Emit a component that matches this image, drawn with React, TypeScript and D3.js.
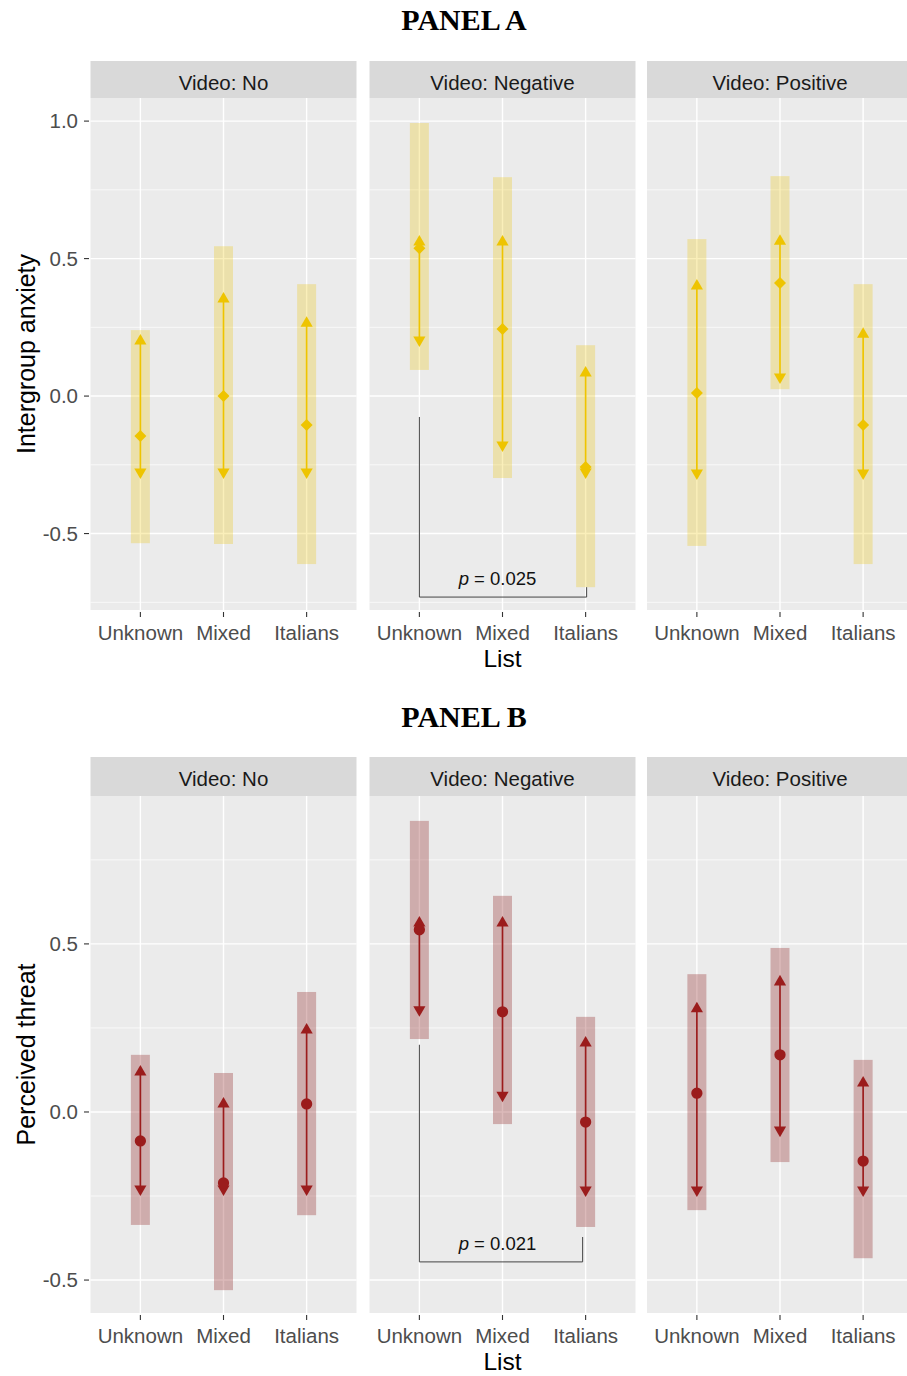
import * as d3 from "d3";

// categories
const lists = ["Unknown", "Mixed", "Italians"];
const videos = ["Video: No", "Video: Negative", "Video: Positive"];

// PANEL A - intergroup anxiety, one row per video condition (Unknown, Mixed, Italians)
const anxietyMean = [
  [-0.145, 0.0, -0.105],
  [0.538, 0.244, -0.258],
  [0.011, 0.411, -0.105],
];
const anxietyUp = [
  [0.2, 0.353, 0.265],
  [0.56, 0.56, 0.084],
  [0.4, 0.563, 0.225],
];
const anxietyDown = [
  [-0.276, -0.276, -0.276],
  [0.204, -0.178, -0.276],
  [-0.28, 0.069, -0.28],
];
const anxietyCiHigh = [
  [0.24, 0.545, 0.407],
  [0.993, 0.796, 0.185],
  [0.571, 0.8, 0.407],
];
const anxietyCiLow = [
  [-0.535, -0.538, -0.611],
  [0.095, -0.298, -0.695],
  [-0.545, 0.025, -0.611],
];

// PANEL B - perceived threat
const threatMean = [
  [-0.086, -0.211, 0.024],
  [0.542, 0.298, -0.03],
  [0.056, 0.17, -0.146],
];
const threatUp = [
  [0.119, 0.024, 0.244],
  [0.562, 0.562, 0.205],
  [0.307, 0.387, 0.086],
];
const threatDown = [
  [-0.229, -0.229, -0.229],
  [0.304, 0.05, -0.232],
  [-0.232, -0.054, -0.232],
];
const threatCiHigh = [
  [0.17, 0.116, 0.357],
  [0.866, 0.643, 0.283],
  [0.41, 0.488, 0.155],
];
const threatCiLow = [
  [-0.336, -0.53, -0.307],
  [0.217, -0.036, -0.342],
  [-0.292, -0.149, -0.435],
];

const anxietyMajor = [-0.5, 0, 0.5, 1.0];
const anxietyMinor = [-0.75, -0.25, 0.25, 0.75];
const threatMajor = [-0.5, 0, 0.5];
const threatMinor = [-0.25, 0.25, 0.75];

// p-value brackets (Negative video, Unknown vs Italians)
const anxietyBracket = { left: -0.076, bottom: -0.731, right: -0.695, label: "0.025" };
const threatBracket = { left: 0.2, bottom: -0.446, right: -0.372, label: "0.021" };

const W = 907;
const H = 1376;
const panelXs = [90.5, 369.5, 647];
const panelW = 266;
const font = "'Liberation Sans', Arial, sans-serif";

const triUp = d3.symbol(d3.symbolTriangle, 64)()!;
const diamond = d3.symbol(d3.symbolSquare, 72)()!;
const circle = d3.symbol(d3.symbolCircle, 100)()!;

type FacetProps = {
  title: string;
  titleY: number;
  yLabel: string;
  stripTop: number;
  plotTop: number;
  plotBottom: number;
  domain: [number, number];
  major: number[];
  minor: number[];
  mean: number[][];
  up: number[][];
  down: number[][];
  ciHigh: number[][];
  ciLow: number[][];
  color: string;
  rectColor: string;
  rectOpacity: number;
  meanPath: string;
  bracket: { left: number; bottom: number; right: number; label: string };
  bracketDx: number;
};

function Facet(p: FacetProps) {
  const y = d3.scaleLinear().domain(p.domain).range([p.plotBottom, p.plotTop]);
  const fmt = (t: number) => d3.format(".1f")(t).replace("\u2212", "-");
  const rectHalf = 9.5;
  return (
    <g>
      <text x={464} y={p.titleY} textAnchor="middle" fontFamily="'Liberation Serif', 'Times New Roman', serif"
        fontWeight="bold" fontSize={30} fill="#000">{p.title}</text>

      {videos.map((v, vi) => {
        const x0 = panelXs[vi];
        const x = d3.scalePoint().domain(lists).range([x0, x0 + panelW]).padding(0.6);
        return (
          <g key={v}>
            <rect x={x0} y={p.stripTop} width={panelW} height={p.plotTop - p.stripTop} fill="#D9D9D9" />
            <text x={x0 + panelW / 2} y={p.stripTop + 29} textAnchor="middle" fontFamily={font}
              fontSize={20.5} fill="#1A1A1A">{v}</text>
            <rect x={x0} y={p.plotTop} width={panelW} height={p.plotBottom - p.plotTop} fill="#EBEBEB" />
            {p.minor.map((t) => (
              <line key={"mi" + t} x1={x0} x2={x0 + panelW} y1={y(t)} y2={y(t)} stroke="#fff" strokeWidth={0.7} />
            ))}
            {p.major.map((t) => (
              <line key={"ma" + t} x1={x0} x2={x0 + panelW} y1={y(t)} y2={y(t)} stroke="#fff" strokeWidth={1.4} />
            ))}
            {lists.map((l) => (
              <line key={"vx" + l} x1={x(l)} x2={x(l)} y1={p.plotTop} y2={p.plotBottom} stroke="#fff" strokeWidth={1.4} />
            ))}

            {lists.map((l, li) => {
              const cx = x(l)!;
              return (
                <g key={"m" + l}>
                  <rect x={cx - rectHalf} width={rectHalf * 2} y={y(p.ciHigh[vi][li])}
                    height={y(p.ciLow[vi][li]) - y(p.ciHigh[vi][li])} fill={p.rectColor} opacity={p.rectOpacity} />
                  <line x1={cx} x2={cx} y1={y(p.up[vi][li])} y2={y(p.down[vi][li])} stroke={p.color} strokeWidth={1.7} />
                  <path d={triUp} transform={`translate(${cx},${y(p.up[vi][li])})`} fill={p.color} />
                  <path d={triUp} transform={`translate(${cx},${y(p.down[vi][li])}) rotate(180)`} fill={p.color} />
                  <path d={p.meanPath} transform={`translate(${cx},${y(p.mean[vi][li])}) rotate(${p.meanPath === diamond ? 45 : 0})`} fill={p.color} />
                </g>
              );
            })}

            {vi === 1 && (
              <g>
                <path
                  d={`M${x("Unknown")},${y(p.bracket.left)}V${y(p.bracket.bottom)}H${x("Italians")! + p.bracketDx}V${y(p.bracket.right)}`}
                  fill="none" stroke="#444" strokeWidth={1} />
                <text x={(x("Unknown")! + x("Italians")!) / 2 - 5} y={y(p.bracket.bottom) - 12} textAnchor="middle"
                  fontFamily={font} fontSize={18.5} fill="#111">
                  <tspan fontStyle="italic">p</tspan> = {p.bracket.label}
                </text>
              </g>
            )}

            {lists.map((l) => (
              <g key={"xt" + l}>
                <line x1={x(l)} x2={x(l)} y1={p.plotBottom + 2} y2={p.plotBottom + 7} stroke="#333" strokeWidth={1.1} />
                <text x={x(l)} y={p.plotBottom + 30} textAnchor="middle" fontFamily={font} fontSize={20.5} fill="#4D4D4D">{l}</text>
              </g>
            ))}
          </g>
        );
      })}

      {p.major.map((t) => (
        <g key={"yt" + t}>
          <line x1={84} x2={89} y1={y(t)} y2={y(t)} stroke="#333" strokeWidth={1.1} />
          <text x={78} y={y(t)} dy="0.36em" textAnchor="end" fontFamily={font} fontSize={20.5} fill="#4D4D4D">{fmt(t)}</text>
        </g>
      ))}

      <text transform={`translate(35,${(p.plotTop + p.plotBottom) / 2}) rotate(-90)`} textAnchor="middle"
        fontFamily={font} fontSize={25} fill="#000">{p.yLabel}</text>
      <text x={panelXs[1] + panelW / 2} y={p.plotBottom + 57} textAnchor="middle" fontFamily={font} fontSize={24.5} fill="#000">List</text>
    </g>
  );
}

export default function App() {
  return (
    <svg width={W} height={H} style={{ position: "absolute", left: 0, top: 0, display: "block", background: "#fff" }}>
      <rect width={W} height={H} fill="#fff" />
      <Facet title="PANEL A" titleY={30} yLabel="Intergroup anxiety" stripTop={61} plotTop={98} plotBottom={610}
        domain={[-0.778, 1.084]} major={anxietyMajor} minor={anxietyMinor}
        mean={anxietyMean} up={anxietyUp} down={anxietyDown} ciHigh={anxietyCiHigh} ciLow={anxietyCiLow}
        color="#EEC400" rectColor="#EEC400" rectOpacity={0.27} meanPath={diamond} bracket={anxietyBracket} bracketDx={1} />
      <Facet title="PANEL B" titleY={727} yLabel="Perceived threat" stripTop={757} plotTop={796} plotBottom={1313}
        domain={[-0.598, 0.94]} major={threatMajor} minor={threatMinor}
        mean={threatMean} up={threatUp} down={threatDown} ciHigh={threatCiHigh} ciLow={threatCiLow}
        color="#9B1C1C" rectColor="#8B1A1A" rectOpacity={0.3} meanPath={circle} bracket={threatBracket} bracketDx={-3} />
    </svg>
  );
}
